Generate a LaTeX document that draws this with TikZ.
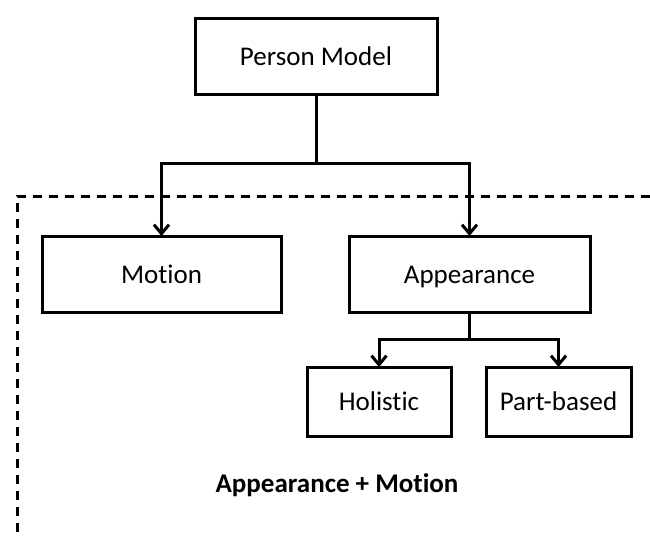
\documentclass[tikz,border=0pt]{standalone}
\usepackage{fontspec}
\setmainfont{Carlito}[Ligatures=NoCommon]
\usetikzlibrary{arrows.meta,calc}
\begin{document}
\begin{tikzpicture}[x=1pt,y=-1pt,
  box/.style={draw,line width=3pt,inner sep=0pt,outer sep=0pt,anchor=north west,
    text height=24pt,text depth=6pt,font=\fontsize{27}{32}\selectfont},
  link/.style={line width=3pt},
  tip/.style={line width=3pt,-{Straight Barb[length=9pt,width=15pt,line width=3pt]}}]
\useasboundingbox (0,0) rectangle (650,536);
% grouping frame
\draw[line width=3pt,dash pattern=on 9pt off 7pt] (650,196) -- (17,196) -- (17,536);
% boxes
\node[box,minimum width=242pt,minimum height=76pt] (pm) at (195,18) {Person Model};
\node[box,minimum width=239pt,minimum height=76pt] (mo) at (42,236) {Motion};
\node[box,minimum width=241pt,minimum height=76pt] (ap) at (349,236) {Appearance};
\node[box,minimum width=144pt,minimum height=69pt] (ho) at (307,367) {Holistic};
\node[box,minimum width=145pt,minimum height=69pt] (pb) at (486,367) {Part-based};
% connectors
\coordinate (j1) at ($(pm.south)+(0,69)$);
\coordinate (j2) at ($(ap.south)+(0,27)$);
\draw[link] (pm.south) -- (j1);
\draw[tip] (j1) -| (mo.north);
\draw[tip] (j1) -| (ap.north);
\draw[link] (ap.south) -- (j2);
\draw[tip] (j2) -| (ho.north);
\draw[tip] (j2) -| (pb.north);
% group label
\node[anchor=base,font=\bfseries\fontsize{27}{32}\selectfont] (lbl) at (337,492) {Appearance + Motion};
\end{tikzpicture}
\end{document}
